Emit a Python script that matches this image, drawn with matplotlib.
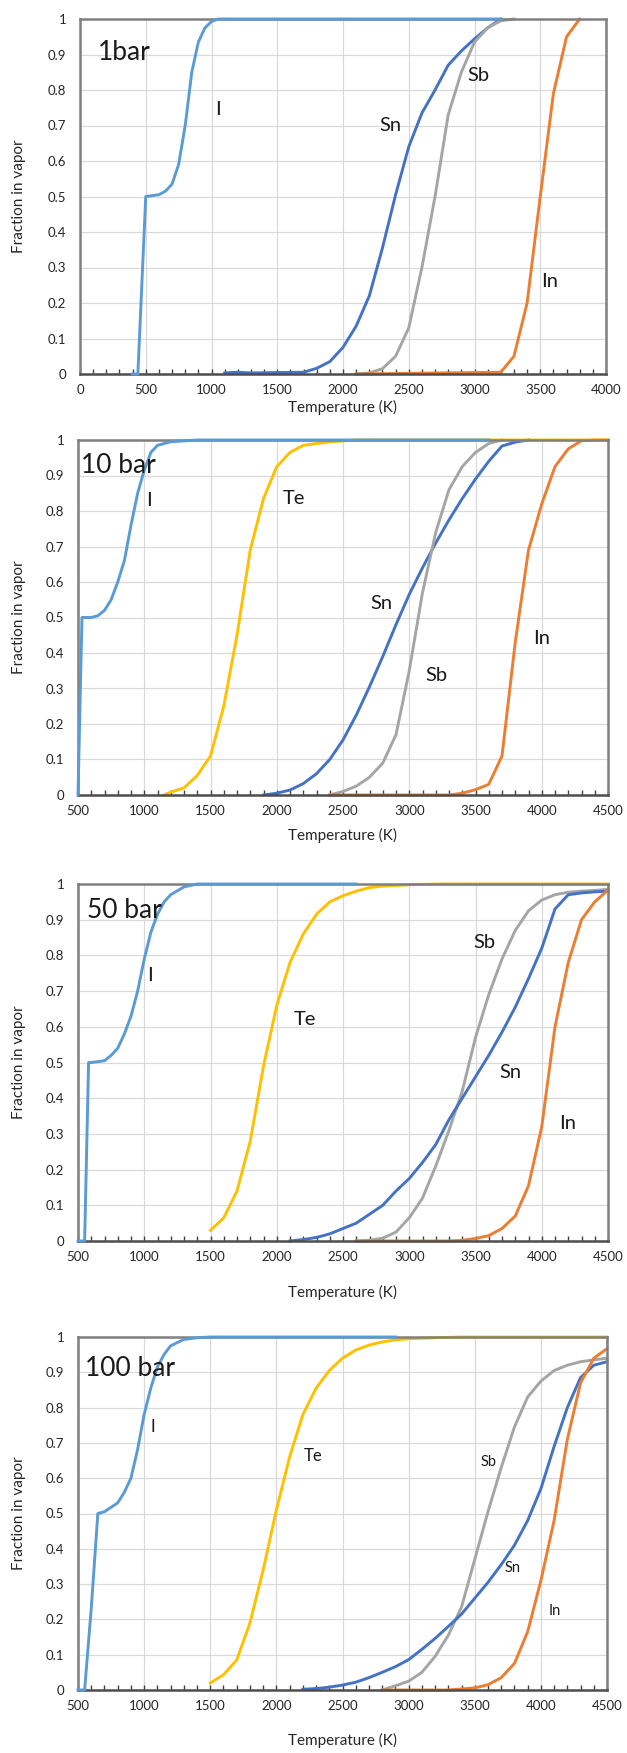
import matplotlib
matplotlib.use("Agg")
import matplotlib.pyplot as plt
from matplotlib.ticker import FixedLocator, MultipleLocator

plt.rcParams['font.family'] = ['Lato', 'DejaVu Sans']

# Colores de las series (paleta de Excel)
COL_I = '#5B9BD5'
COL_SN = '#4472C4'
COL_SB = '#A5A5A5'
COL_IN = '#ED7D31'
COL_TE = '#FFC000'

# ---------------- 1 bar ----------------
t_i_1 = [400, 440, 500, 600, 650, 700, 750, 800, 850, 900, 950, 1000, 1050, 3200]
f_i_1 = [0, 0, 0.5, 0.505, 0.515, 0.535, 0.59, 0.70, 0.85, 0.935, 0.975, 0.993, 1.0, 1.0]
t_sn_1 = [1100, 1200, 1300, 1700, 1800, 1900, 2000, 2100, 2200, 2300, 2400, 2500,
          2600, 2700, 2800, 2900, 3000, 3100, 3200]
f_sn_1 = [0.003, 0.005, 0.003, 0.005, 0.016, 0.035, 0.075, 0.135, 0.22, 0.355, 0.505,
          0.64, 0.735, 0.80, 0.87, 0.91, 0.944, 0.975, 1.0]
t_sb_1 = [2100, 2200, 2300, 2400, 2500, 2600, 2700, 2800, 2900, 3000, 3100, 3200, 3300]
f_sb_1 = [0, 0.003, 0.015, 0.05, 0.13, 0.30, 0.50, 0.73, 0.85, 0.935, 0.975, 0.995, 1.0]
t_in_1 = [2100, 3200, 3300, 3400, 3500, 3600, 3700, 3800]
f_in_1 = [0, 0.005, 0.05, 0.2, 0.5, 0.79, 0.95, 1.0]

# ---------------- 10 bar ----------------
t_i_10 = [500, 530, 600, 650, 700, 750, 800, 850, 900, 950, 1000, 1050, 1100, 1200,
          1400, 3600]
f_i_10 = [0, 0.5, 0.5, 0.505, 0.52, 0.55, 0.6, 0.66, 0.76, 0.85, 0.915, 0.965, 0.985,
          0.995, 1.0, 1.0]
t_te_10 = [1150, 1200, 1300, 1400, 1500, 1600, 1700, 1800, 1900, 2000, 2100, 2200,
           2300, 2400, 2600, 4500]
f_te_10 = [0, 0.008, 0.02, 0.055, 0.11, 0.25, 0.45, 0.69, 0.835, 0.925, 0.965, 0.985,
           0.99, 0.995, 1.0, 1.0]
t_sn_10 = [1900, 2000, 2100, 2200, 2300, 2400, 2500, 2600, 2700, 2800, 2900, 3000,
           3100, 3200, 3300, 3400, 3500, 3600, 3700, 3800, 3900]
f_sn_10 = [0, 0.005, 0.014, 0.032, 0.06, 0.10, 0.155, 0.225, 0.305, 0.39, 0.48, 0.565,
           0.64, 0.71, 0.775, 0.835, 0.89, 0.94, 0.983, 0.994, 1.0]
t_sb_10 = [2400, 2500, 2600, 2700, 2800, 2900, 3000, 3100, 3200, 3300, 3400, 3500,
           3600, 3700]
f_sb_10 = [0, 0.01, 0.025, 0.05, 0.09, 0.17, 0.35, 0.57, 0.74, 0.86, 0.925, 0.965,
           0.99, 1.0]
t_in_10 = [2400, 3300, 3400, 3500, 3600, 3700, 3800, 3900, 4000, 4100, 4200, 4300,
           4400, 4500]
f_in_10 = [0, 0, 0.005, 0.015, 0.03, 0.11, 0.43, 0.69, 0.82, 0.925, 0.975, 0.998,
           1.0, 1.0]

# ---------------- 50 bar ----------------
t_i_50 = [500, 550, 580, 600, 700, 750, 800, 850, 900, 950, 1000, 1050, 1100, 1150,
          1200, 1300, 1400, 2600]
f_i_50 = [0, 0, 0.5, 0.5, 0.505, 0.52, 0.54, 0.58, 0.63, 0.70, 0.79, 0.865, 0.915,
          0.95, 0.97, 0.992, 1.0, 1.0]
t_te_50 = [1500, 1600, 1700, 1800, 1900, 2000, 2100, 2200, 2300, 2400, 2500, 2600,
           2700, 2800, 3000, 3200, 4500]
f_te_50 = [0.03, 0.065, 0.14, 0.28, 0.49, 0.66, 0.78, 0.86, 0.915, 0.95, 0.967, 0.98,
           0.99, 0.994, 0.998, 1.0, 1.0]
t_sn_50 = [2100, 2200, 2300, 2400, 2500, 2600, 2700, 2800, 2900, 3000, 3100, 3200,
           3300, 3400, 3500, 3600, 3700, 3800, 3900, 4000, 4100, 4200, 4300, 4400, 4500]
f_sn_50 = [0, 0.004, 0.01, 0.02, 0.035, 0.05, 0.075, 0.10, 0.14, 0.175, 0.22, 0.27,
           0.34, 0.40, 0.46, 0.52, 0.585, 0.655, 0.735, 0.82, 0.93, 0.97, 0.975, 0.978, 0.98]
t_sb_50 = [2600, 2700, 2800, 2900, 3000, 3100, 3200, 3300, 3400, 3500, 3600, 3700,
           3800, 3900, 4000, 4100, 4200, 4300, 4400, 4500]
f_sb_50 = [0, 0.002, 0.008, 0.025, 0.065, 0.12, 0.21, 0.31, 0.42, 0.57, 0.69, 0.79,
           0.87, 0.925, 0.955, 0.97, 0.977, 0.98, 0.982, 0.985]
t_in_50 = [2600, 3300, 3400, 3500, 3600, 3700, 3800, 3900, 4000, 4100, 4200, 4300,
           4400, 4500]
f_in_50 = [0, 0, 0.002, 0.007, 0.015, 0.035, 0.07, 0.155, 0.32, 0.6, 0.78, 0.9,
           0.95, 0.983]

# ---------------- 100 bar ----------------
t_i_100 = [500, 550, 600, 650, 700, 800, 850, 900, 950, 1000, 1050, 1100, 1150, 1200,
           1300, 1400, 1500, 2900]
f_i_100 = [0, 0, 0.23, 0.5, 0.505, 0.53, 0.56, 0.6, 0.68, 0.78, 0.855, 0.915, 0.95,
           0.975, 0.993, 0.998, 1.0, 1.0]
t_te_100 = [1500, 1600, 1700, 1800, 1900, 2000, 2100, 2200, 2300, 2400, 2500, 2600,
            2700, 2800, 2900, 3000, 3200, 3400, 4500]
f_te_100 = [0.02, 0.043, 0.085, 0.19, 0.34, 0.51, 0.66, 0.78, 0.855, 0.905, 0.94, 0.963,
            0.977, 0.986, 0.992, 0.995, 0.998, 1.0, 1.0]
t_sn_100 = [2200, 2300, 2400, 2500, 2600, 2700, 2800, 2900, 3000, 3100, 3200, 3300,
            3400, 3500, 3600, 3700, 3800, 3900, 4000, 4100, 4200, 4300, 4400, 4500]
f_sn_100 = [0.002, 0.004, 0.008, 0.014, 0.022, 0.035, 0.05, 0.066, 0.086, 0.115, 0.146,
            0.18, 0.215, 0.26, 0.305, 0.355, 0.41, 0.48, 0.57, 0.69, 0.80, 0.885, 0.92, 0.93]
t_sb_100 = [2800, 2900, 3000, 3100, 3200, 3300, 3400, 3500, 3600, 3700, 3800, 3900,
            4000, 4100, 4200, 4300, 4400, 4500]
f_sb_100 = [0, 0.012, 0.025, 0.05, 0.095, 0.155, 0.235, 0.37, 0.505, 0.63, 0.745, 0.83,
            0.875, 0.905, 0.92, 0.93, 0.935, 0.94]
t_in_100 = [2800, 3300, 3400, 3500, 3600, 3700, 3800, 3900, 4000, 4100, 4200, 4300,
            4400, 4500]
f_in_100 = [0, 0, 0.003, 0.006, 0.015, 0.035, 0.075, 0.165, 0.31, 0.48, 0.71, 0.87,
            0.94, 0.967]

y_ticks = [0, 0.1, 0.2, 0.3, 0.4, 0.5, 0.6, 0.7, 0.8, 0.9, 1]
y_ticklabels = ['0', '0.1', '0.2', '0.3', '0.4', '0.5', '0.6', '0.7', '0.8', '0.9', '1']

W, H = 627, 1753
fig = plt.figure(figsize=(W / 100, H / 100), dpi=100)


def montar_panel(caja, xmin, xmax, xlab_px, series, etiquetas, titulo):
    # caja = (izq, arriba, der, abajo) en pixeles de la figura
    izq, arr, der, aba = caja
    ax = fig.add_axes([izq / W, 1 - aba / H, (der - izq) / W, (aba - arr) / H])

    for t, f, col, z in series:
        ax.plot(t, f, color=col, lw=2.1, solid_joinstyle='round', zorder=z, clip_on=False)

    ax.set_xlim(xmin, xmax)
    ax.set_ylim(0, 1)
    ax.xaxis.set_major_locator(MultipleLocator(500))
    ax.xaxis.set_minor_locator(MultipleLocator(100))
    ax.yaxis.set_major_locator(FixedLocator(y_ticks))
    ax.set_yticklabels(y_ticklabels)
    ax.grid(True, which='major', color='#d9d9d9', lw=0.9, zorder=0)
    ax.set_axisbelow(True)

    ax.tick_params(axis='x', which='both', direction='in', length=3.5, width=1,
                   color='#404040', top=False, labelsize=9.5, labelcolor='#262626', pad=7)
    ax.tick_params(axis='y', length=0, labelsize=9.5, labelcolor='#262626', pad=10)

    for lado in ['left', 'right', 'top']:
        ax.spines[lado].set_color('#7f7f7f')
        ax.spines[lado].set_linewidth(1.8)
    ax.spines['bottom'].set_color('#4d4d4d')
    ax.spines['bottom'].set_linewidth(1.8)
    for s in ax.spines.values():
        s.set_zorder(5)

    alto = aba - arr
    ancho = der - izq
    ax.set_xlabel('Temperature (K)', fontsize=11, color='#262626', va='center')
    ax.xaxis.set_label_coords(0.5, -(xlab_px - aba) / alto)
    ax.set_ylabel('Fraction in vapor', fontsize=11, color='#262626', va='center')
    ax.yaxis.set_label_coords(-(izq - 19) / ancho, 0.5)

    tx, ty, ttxt = titulo
    ax.text(tx, ty, ttxt, fontsize=19, color='#1a1a1a', ha='left', va='center', zorder=10)
    for x, y, txt, fs in etiquetas:
        ax.text(x, y, txt, fontsize=fs, color='#1a1a1a', ha='center', va='center', zorder=10)
    return ax


montar_panel((80, 19, 606, 374), 0, 4000, 407,
             [(t_sn_1, f_sn_1, COL_SN, 2), (t_sb_1, f_sb_1, COL_SB, 3),
              (t_in_1, f_in_1, COL_IN, 4), (t_i_1, f_i_1, COL_I, 6)],
             [(1049, 0.745, 'I', 14.5), (2360, 0.70, 'Sn', 14.5),
              (3027, 0.84, 'Sb', 14.5), (3574, 0.26, 'In', 14.5)],
             (137, 0.907, '1bar'))

montar_panel((78, 440, 608, 795), 500, 4500, 835,
             [(t_sn_10, f_sn_10, COL_SN, 2), (t_sb_10, f_sb_10, COL_SB, 3),
              (t_in_10, f_in_10, COL_IN, 4), (t_te_10, f_te_10, COL_TE, 5),
              (t_i_10, f_i_10, COL_I, 6)],
             [(1038, 0.83, 'I', 14.5), (2127, 0.835, 'Te', 14.5), (2791, 0.54, 'Sn', 14.5),
              (3208, 0.336, 'Sb', 14.5), (4001, 0.44, 'In', 14.5)],
             (524, 0.927, '10 bar'))

montar_panel((78, 884, 608, 1241), 500, 4500, 1292,
             [(t_sn_50, f_sn_50, COL_SN, 3), (t_sb_50, f_sb_50, COL_SB, 2),
              (t_in_50, f_in_50, COL_IN, 4), (t_te_50, f_te_50, COL_TE, 5),
              (t_i_50, f_i_50, COL_I, 6)],
             [(1040, 0.745, 'I', 14.5), (2209, 0.62, 'Te', 14.5), (3566, 0.835, 'Sb', 14.5),
              (3761, 0.473, 'Sn', 14.5), (4198, 0.33, 'In', 14.5)],
             (566, 0.927, '50 bar'))

montar_panel((78, 1337, 607, 1690), 500, 4500, 1740,
             [(t_sn_100, f_sn_100, COL_SN, 3), (t_sb_100, f_sb_100, COL_SB, 2),
              (t_in_100, f_in_100, COL_IN, 4), (t_te_100, f_te_100, COL_TE, 5),
              (t_i_100, f_i_100, COL_I, 6)],
             [(1068, 0.744, 'I', 12), (2278, 0.663, 'Te', 12), (3608, 0.647, 'Sb', 10.5),
              (3789, 0.346, 'Sn', 10.5), (4107, 0.223, 'In', 10.5)],
             (555, 0.91, '100 bar'))

fig.savefig('out.png', dpi=100)
